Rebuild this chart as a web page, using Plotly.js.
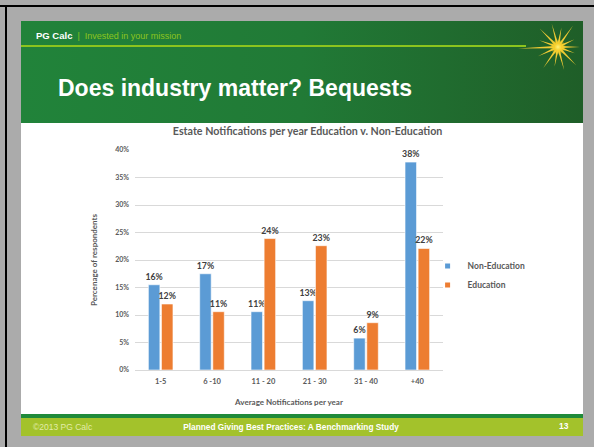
<!DOCTYPE html>
<html>
<head>
<meta charset="utf-8">
<script src="https://cdn.plot.ly/plotly-3.0.1.min.js"></script>
<style>
  html, body { margin:0; padding:0; }
  body { width:594px; height:447px; position:relative; overflow:hidden; background:#ababab; font-family:"Liberation Sans", Arial, sans-serif; }
  .abs { position:absolute; }
  #topline { left:0; top:5px; width:594px; height:2px; background:#000; }
  #leftline { left:5px; top:5px; width:2px; height:442px; background:#000; }
  #slide { left:21px; top:21px; width:562px; height:415px; background:#fff; }
  #header { left:21px; top:21px; width:562px; height:102px; background:linear-gradient(to right, #21833a 0%, #217a36 50%, #1f5e28 100%); }
  #hline { left:21px; top:45px; width:505px; height:1.5px; background:#8cc41e; }
  #brand { left:36px; top:30px; font-size:9px; line-height:11px; color:#fff; white-space:nowrap; }
  #brand b { color:#fff; font-size:9.5px; }
  #brand .sep { color:#8cc41e; margin:0 5px; }
  #brand .tag { color:#8cc41e; }
  #title { left:58px; top:74px; font-size:23px; line-height:28px; font-weight:bold; color:#fff; white-space:nowrap; }
  #footdark { left:21px; top:414px; width:562px; height:4px; background:#1f8a3a; }
  #footer { left:21px; top:418px; width:562px; height:18px; background:#a3c22b; }
  #copy { left:33px; top:422px; font-size:8.5px; line-height:10px; color:#e2eca8; white-space:nowrap; }
  #study { left:21px; width:540px; top:422px; font-size:8.3px; line-height:10px; color:#fff; font-weight:bold; text-align:center; white-space:nowrap; }
  #page { left:559px; top:421px; font-size:8.5px; line-height:10px; color:#fff; font-weight:bold; }
  #chart { left:21px; top:123px; width:562px; height:290px; }
  #star { left:515px; top:15px; }
</style>
</head>
<body>
<div class="abs" id="slide"></div>
<div class="abs" id="header"></div>
<div class="abs" id="hline"></div>
<div class="abs" id="brand"><b>PG Calc</b><span class="sep">|</span><span class="tag">Invested in your mission</span></div>
<div class="abs" id="title">Does industry matter? Bequests</div>
<svg class="abs" id="star" width="68" height="64" viewBox="0 0 68 64">
  <defs>
    <radialGradient id="glow" cx="50%" cy="50%" r="50%">
      <stop offset="0%" stop-color="#fff27a"/>
      <stop offset="45%" stop-color="#f7cf2a" stop-opacity="0.9"/>
      <stop offset="100%" stop-color="#f7cf2a" stop-opacity="0"/>
    </radialGradient>
  </defs>
  <g id="rays" fill="#f2cc35"></g>
  <circle cx="43" cy="32" r="8" fill="url(#glow)"/>
</svg>
<div class="abs" id="footdark"></div>
<div class="abs" id="footer"></div>
<div class="abs" id="copy">©2013 PG Calc</div>
<div class="abs" id="study">Planned Giving Best Practices: A Benchmarking Study</div>
<div class="abs" id="page">13</div>
<div class="abs" id="topline"></div>
<div class="abs" id="leftline"></div>
<div class="abs" id="chart"></div>
<script>
// star rays (decoration)
(function(){
  var g = document.getElementById('rays');
  var cx = 43, cy = 32;
  var rays = [[0,22],[25,18],[55,26],[80,20],[105,24],[135,26],[160,20],[182,40],[205,22],[235,26],[260,20],[285,24],[315,26],[340,18]];
  var s = '';
  rays.forEach(function(r){
    var a = r[0]*Math.PI/180, L = r[1], w = 1.3;
    var ex = cx + L*Math.cos(a), ey = cy - L*Math.sin(a);
    var px = -Math.sin(a)*w, py = -Math.cos(a)*w;
    s += '<polygon points="'+(cx+px)+','+(cy+py)+' '+ex+','+ey+' '+(cx-px)+','+(cy-py)+'"/>';
  });
  g.innerHTML = s;
})();

var categories = ['1-5', '6 -10', '11 - 20', '21 - 30', '31 - 40', '+40'];
var nonEducation = [15.5, 17.5, 10.6, 12.6, 5.8, 37.8];
var education = [12.0, 10.6, 23.9, 22.6, 8.6, 22.1];
var nonEducationLabels = ['16%', '17%', '11%', '13%', '6%', '38%'];
var educationLabels = ['12%', '11%', '24%', '23%', '9%', '22%'];
var seriesNames = ['Non-Education', 'Education'];
var seriesColors = ['#5b9bd5', '#ed7d31'];
var yTickVals = [0, 5, 10, 15, 20, 25, 30, 35, 40];
var yTickText = ['0%', '5%', '10%', '15%', '20%', '25%', '30%', '35%', '40%'];

var chartFont = 'Lato, "Open Sans", sans-serif';
var labelFont = {family: chartFont, size: 8.8, color: '#404040', weight: 'bold'};

var traces = [
  {type: 'bar', name: seriesNames[0], x: categories, y: nonEducation, text: nonEducationLabels,
   textposition: 'outside', constraintext: 'none', textfont: labelFont, cliponaxis: false, hoverinfo: 'none', showlegend: false,
   marker: {color: seriesColors[0], line: {color: '#ffffff', width: 0.6}}},
  {type: 'bar', name: seriesNames[1], x: categories, y: education, text: educationLabels,
   textposition: 'outside', constraintext: 'none', textfont: labelFont, cliponaxis: false, hoverinfo: 'none', showlegend: false,
   marker: {color: seriesColors[1], line: {color: '#ffffff', width: 0.6}}},
  // legend entries (small square swatches like the original)
  {type: 'scatter', mode: 'markers', name: seriesNames[0], x: [categories[0]], y: [null], hoverinfo: 'none',
   marker: {symbol: 'square', size: 5, color: seriesColors[0]}},
  {type: 'scatter', mode: 'markers', name: seriesNames[1], x: [categories[0]], y: [null], hoverinfo: 'none',
   marker: {symbol: 'square', size: 5, color: seriesColors[1]}}
];

var layout = {
  width: 562, height: 290,
  margin: {l: 114, r: 140, t: 27, b: 43, pad: 0},
  paper_bgcolor: '#ffffff', plot_bgcolor: '#ffffff',
  font: {family: chartFont, color: '#595959'},
  title: {text: 'Estate Notifications per year Education v. Non-Education',
          font: {family: chartFont, size: 10.7, color: '#595959', weight: 'bold'},
          x: 0.51, xref: 'container', xanchor: 'center', y: 0.97, yref: 'container', yanchor: 'middle'},
  barmode: 'group', bargap: 0.49, bargroupgap: 0.12,
  showlegend: true,
  legend: {x: 0.95, xanchor: 'left', y: 0.43, yanchor: 'middle', font: {family: chartFont, size: 8.5, color: '#595959', weight: 'bold'},
           itemwidth: 30, tracegroupgap: 0, bgcolor: 'rgba(0,0,0,0)'},
  xaxis: {type: 'category', showgrid: false, showline: true, linecolor: '#d9d9d9', linewidth: 1, ticks: '',
          tickfont: {family: chartFont, size: 7.5, color: '#595959', weight: 'bold'}, ticklabelstandoff: 4,
          title: {text: 'Average Notifications per year', font: {family: chartFont, size: 8, color: '#595959', weight: 'bold'}, standoff: 14},
          automargin: false},
  yaxis: {range: [0, 40], tickvals: yTickVals, ticktext: yTickText, showgrid: true, gridcolor: '#d9d9d9', gridwidth: 1,
          zeroline: false, showline: false, ticks: '',
          tickfont: {family: chartFont, size: 7, color: '#595959', weight: 'bold'}, ticklabelstandoff: 5,
          title: {text: 'Percenage of respondents', font: {family: chartFont, size: 8, color: '#595959', weight: 'bold'}, standoff: 16},
          automargin: false}
};

Plotly.newPlot('chart', traces, layout, {displayModeBar: false, staticPlot: true});
</script>
</body>
</html>
